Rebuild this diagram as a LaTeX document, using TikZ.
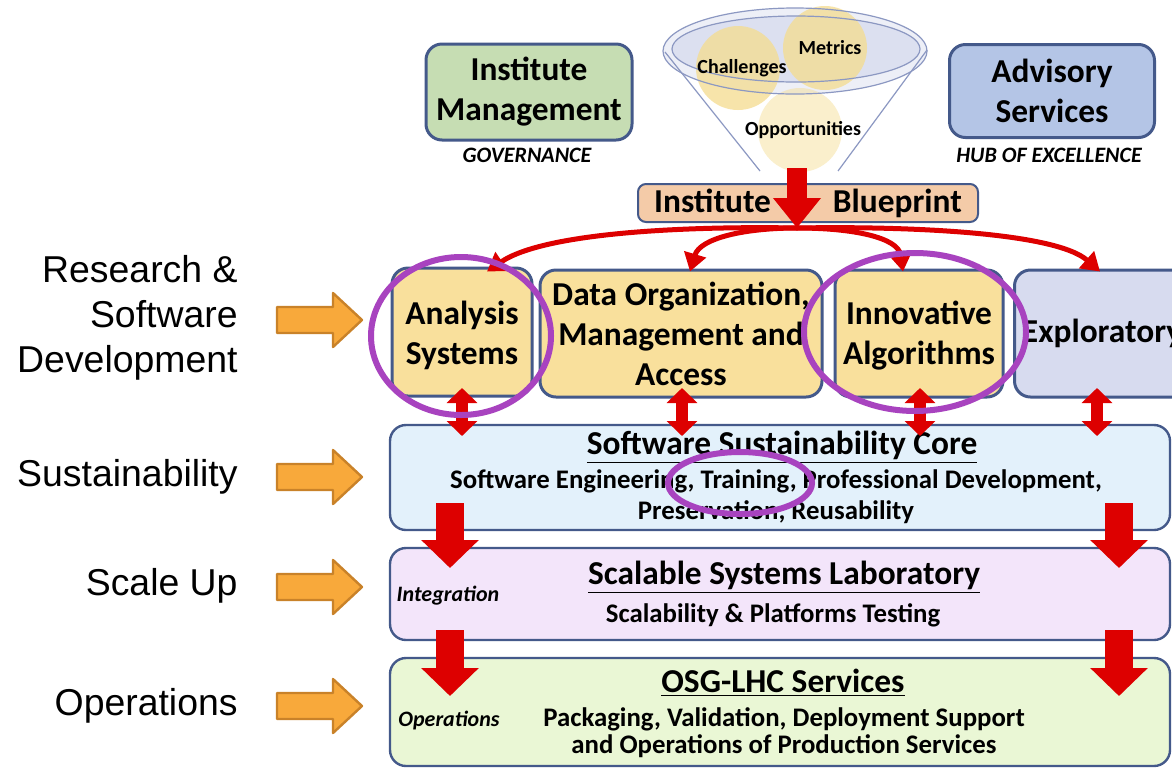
\documentclass[tikz,border=0pt]{standalone}
\usepackage{fontspec}
\setmainfont{Carlito}
\newfontfamily\arialf{Liberation Sans}
\usetikzlibrary{arrows.meta,calc}
\definecolor{bordc}{HTML}{44598A}
\definecolor{gfill}{HTML}{C6DDB3}
\definecolor{bfill}{HTML}{B4C5E6}
\definecolor{pfill}{HTML}{F4CBA8}
\definecolor{yfill}{HTML}{F9E09C}
\definecolor{lfill}{HTML}{D7DBEF}
\definecolor{cfill}{HTML}{E3F1FB}
\definecolor{sfill}{HTML}{F3E5FA}
\definecolor{ofill}{HTML}{EAF7D5}
\definecolor{ared}{HTML}{DD0000}
\definecolor{purp}{HTML}{A843BF}
\definecolor{orf}{HTML}{F8A93B}
\definecolor{ord}{HTML}{C98229}
\definecolor{funfill}{HTML}{DCE0F0}
\definecolor{funout}{HTML}{EDEFF7}
\definecolor{funline}{HTML}{8C98C2}
\definecolor{circy}{HTML}{F5DC8E}
\tikzset{
  box/.style={draw=bordc, line width=1.5pt, rounded corners=8pt, inner sep=0pt, align=center,
    font=\bfseries\fontsize{16.7}{20}\selectfont},
  btxt/.style={inner sep=0pt, align=center, font=\bfseries\fontsize{16.7}{20}\selectfont},
  wbox/.style={draw=bordc, line width=1.2pt, rounded corners=8pt, inner sep=0pt,
    minimum width=390pt},
  ttl/.style={font=\bfseries\fontsize{16.7}{19}\selectfont, inner sep=0pt},
  subt/.style={font=\bfseries\fontsize{13.4}{15.5}\selectfont, inner sep=0pt, align=center},
  side/.style={font=\bfseries\itshape\fontsize{11}{12}\selectfont, inner sep=0pt},
  capt/.style={font=\bfseries\itshape\fontsize{11}{12}\selectfont, inner sep=0pt},
  ftxt/.style={font=\bfseries\fontsize{10}{11}\selectfont, inner sep=0pt},
  lab/.style={font=\arialf\fontsize{18.7}{22.5}\selectfont, align=right, inner sep=0pt, anchor=east},
  carr/.style={ared, line width=2.5pt, -{Triangle[length=9pt,width=11pt]}},
  darr/.style={ared, line width=6pt, {Triangle[length=7.5pt,width=15pt]}-{Triangle[length=7.5pt,width=15pt]}},
  barr/.style={ared, line width=14pt, -{Triangle[length=14pt,width=28pt]}},
  pur/.style={purp, line width=3pt},
  orarr/.style={fill=orf, draw=ord, line width=1.2pt, line join=round}
}
\newcommand\orarrow[1]{%
  \draw[orarr] (277,#1-13) -- (333,#1-13) -- (333,#1-27) -- (362,#1) -- (333,#1+27) -- (333,#1+13) -- (277,#1+13) -- cycle;}
\begin{document}
\begin{tikzpicture}[x=0.5pt,y=-0.5pt]
\useasboundingbox (0,0) rectangle (1172,767);
\clip (0,0) rectangle (1172,767);
\fill[white] (0,0) rectangle (1172,767);

% top boxes
\node[box, fill=gfill, minimum width=103pt, minimum height=48pt] (im) at (529,92) {Institute\\Management};
\node[capt] (gov) at (527,155) {GOVERNANCE};
\node[box, fill=bfill, minimum width=102.5pt, minimum height=46.5pt] (as) at (1052,91) {Advisory\\Services};
\node[capt] (hub) at (1049,155) {HUB OF EXCELLENCE};

% funnel
\fill[white] (665,52) -- (760,171) -- (838,171) -- (927,50) -- cycle;
\fill[funout] (795,51) ellipse (132 and 43);
\fill[funfill] (796,49) ellipse (124 and 33);
\fill[circy, opacity=0.45] (800,130) circle (42);
\fill[circy, opacity=0.75] (738,68) circle (42);
\fill[circy, opacity=0.75] (825,48) circle (42);
\draw[funline, line width=0.6pt] (665,52) -- (760,171);
\draw[funline, line width=0.6pt] (927,50) -- (838,171);
\draw[funline, line width=0.6pt] (795,51) ellipse (132 and 43);
\draw[funline, line width=0.6pt] (796,49) ellipse (124 and 33);
\node[ftxt] (ch) at (742,68) {Challenges};
\node[ftxt] (me) at (830,48) {Metrics};
\node[ftxt] (op) at (803,130) {Opportunities};

% blueprint
\node[box, fill=pfill, minimum width=170pt, minimum height=19pt, rounded corners=4pt, line width=1pt] (bp) at (808,203) {Institute\hspace{31pt}Blueprint};
\coordinate (fb) at (797,168);
\coordinate (hubp) at (797,228);
\draw[ared, line width=10pt, -{Triangle[length=15pt,width=23pt]}] (fb) -- (hubp);

% research row
\node[box, fill=yfill, minimum width=70pt, minimum height=64pt] (an) at (462,332) {};
\node[btxt] (ant) at (462,335) {Analysis\\Systems};
\node[box, fill=yfill, minimum width=141pt, minimum height=63.5pt] (do) at (681,333.5) {Data Organization,\\Management and\\Access};
\node[box, fill=yfill, minimum width=84pt, minimum height=63.5pt] (ia) at (919,333.5) {};
\node[btxt] (iat) at (919,336) {Innovative\\Algorithms};
\node[box, fill=lfill, minimum width=87.5pt, minimum height=63.5pt] (ex) at (1102,333.5) {Exploratory};

% curved arrows
\draw[carr] (hubp) .. controls (690,226) and (545,232) .. ($(an.north)+(25,5)$);
\draw[carr] (hubp) .. controls (745,228) and (700,238) .. ($(do.north)+(9,3)$);
\draw[carr] (hubp) .. controls (855,228) and (898,238) .. ($(ia.north)+(-16,3)$);
\draw[carr] (hubp) .. controls (905,226) and (1055,232) .. ($(ex.north)+(-2,3)$);

% wide boxes
\node[wbox, fill=cfill, minimum height=52.5pt] (core) at (780,477.5) {};
\node[wbox, fill=sfill, minimum height=46pt] (ssl) at (780,594) {};
\node[wbox, fill=ofill, minimum height=54pt] (osg) at (780,712) {};

\node[ttl] (coret) at (782,447) {\underline{Software Sustainability Core}};
\node[subt] (cored) at (776,497) {Software Engineering, Training, Professional Development,\\Preservation, Reusability};
\node[ttl] (sslt) at (784,577) {\underline{Scalable Systems Laboratory}};
\node[subt] (ssld) at (773,615) {Scalability \& Platforms Testing};
\node[side] (integ) at (448,596) {Integration};
\node[ttl] (osgt) at (783,683) {\underline{OSG-LHC Services}};
\node[subt, font=\bfseries\fontsize{13.4}{13.5}\selectfont] (osgd) at (784,733) {Packaging, Validation, Deployment Support\\and Operations of Production Services};
\node[side] (opsl) at (449,720) {Operations};

% double arrows
\foreach \x/\n in {462/a,682/b,920/c,1097/d}{
  \coordinate (dt\n) at (\x,388);
  \coordinate (db\n) at (\x,436);
  \draw[darr] (dt\n) -- (db\n);
}
% block arrows
\foreach \x/\n in {450/l,1119/r}{
  \coordinate (s1\n) at (\x,503); \coordinate (e1\n) at (\x,568);
  \coordinate (s2\n) at (\x,630); \coordinate (e2\n) at (\x,696);
  \draw[barr] (s1\n) -- (e1\n);
  \draw[barr] (s2\n) -- (e2\n);
}

% highlight ellipses
\draw[pur] (461,336) ellipse (90 and 79);
\draw[pur] (915,332) ellipse (111 and 79);
\draw[pur] (740,483) ellipse (72 and 31);

% left labels
\node[lab] (l1) at (238,318) {Research \&\\Software\\Development};
\node[lab] (l2) at (238,477) {Sustainability};
\node[lab] (l3) at (238,586) {Scale Up};
\node[lab] (l4) at (238,706) {Operations};
\orarrow{320}
\orarrow{477}
\orarrow{587}
\orarrow{706}
\end{tikzpicture}
\end{document}
